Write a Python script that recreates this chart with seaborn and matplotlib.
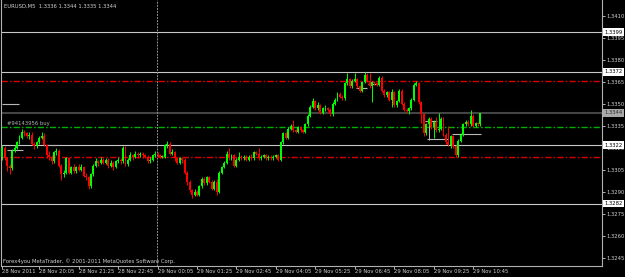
import numpy as np
import matplotlib
matplotlib.use("Agg")
import matplotlib.pyplot as plt
import seaborn as sns

# EURUSD M5 candles, values in points above 1.3300
BASE = 1.3300
PT = 0.0001

first_open = 14
closes = [20, 13, 8, 6, 18, 20, 24, 27, 31, 30,
          28, 29, 23, 21, 24, 27, 28, 22, 15, 14,
          11, 17, 18, 8, 2, 3, 13, 3, 7, 4,
          7, 5, 7, 1, 0, -6, 2, 8, 11, 10,
          12, 10, 12, 8, 10, 7, 11, 12, 11, 20,
          9, 12, 15, 14, 16, 15, 16, 15, 14, 11,
          12, 15, 16, 15, 14, 14, 22, 23, 16, 17,
          13, 10, 13, 12, 3, -3, -9, -12, -10, -12,
          -6, -1, -4, 0, -3, -8, -3, -10, 3, 7,
          10, 16, 13, 15, 8, 12, 14, 13, 14, 12,
          14, 13, 17, 16, 13, 14, 15, 13, 14, 13,
          14, 15, 12, 24, 30, 27, 33, 35, 32, 31,
          34, 32, 31, 36, 42, 48, 52, 47, 49, 44,
          47, 47, 46, 43, 50, 53, 57, 55, 54, 64,
          67, 62, 66, 67, 62, 59, 65, 70, 66, 62,
          65, 64, 63, 68, 59, 56, 58, 53, 58, 49,
          52, 59, 50, 46, 45, 47, 53, 63, 64, 51,
          43, 30, 36, 40, 34, 38, 32, 33, 40, 29,
          24, 22, 28, 21, 15, 25, 29, 36, 38, 36,
          42, 35, 37, 36, 44]
highs = [22, 21, 14, 9, 19, 22, 25, 29, 33, 32,
         31, 31, 31, 24, 25, 28, 31, 30, 23, 18,
         15, 18, 20, 19, 9, 5, 14, 14, 8, 9,
         8, 9, 9, 8, 3, 1, 3, 9, 13, 12,
         14, 13, 13, 13, 12, 11, 12, 14, 13, 21,
         21, 13, 17, 16, 18, 17, 17, 17, 16, 15,
         14, 16, 18, 17, 16, 15, 23, 25, 24, 19,
         18, 14, 14, 14, 13, 4, -2, -8, -8, -9,
         -5, 0, 0, 1, 1, -2, -2, -1, 4, 8,
         11, 18, 20, 16, 16, 13, 17, 15, 15, 15,
         15, 16, 18, 18, 20, 15, 16, 16, 15, 15,
         15, 16, 16, 25, 31, 31, 34, 36, 39, 33,
         35, 35, 33, 37, 43, 49, 54, 53, 51, 50,
         48, 49, 48, 47, 51, 54, 58, 58, 56, 65,
         71, 68, 67, 71, 68, 63, 66, 72, 71, 71,
         66, 66, 65, 69, 69, 60, 59, 59, 60, 59,
         53, 60, 60, 51, 47, 48, 54, 64, 66, 65,
         52, 44, 37, 41, 41, 39, 41, 44, 41, 41,
         30, 35, 29, 29, 22, 26, 30, 37, 39, 39,
         46, 43, 38, 38, 44]
lows = [12, 12, 4, 2, 5, 17, 19, 23, 26, 28,
        27, 26, 22, 19, 20, 23, 26, 21, 13, 12,
        9, 10, 15, 7, -2, 0, 2, 2, 2, 3,
        3, 4, 4, 0, -2, -8, -7, 1, 7, 8,
        9, 9, 9, 6, 7, 5, 6, 10, 9, 10,
        8, 8, 11, 12, 13, 13, 14, 13, 13, 10,
        10, 11, 14, 14, 13, 13, 13, 20, 15, 15,
        11, 9, 9, 10, 2, -5, -10, -14, -13, -13,
        -13, -7, -5, -5, -4, -9, -9, -12, -11, 2,
        6, 9, 12, 12, 7, 7, 11, 12, 12, 11,
        11, 12, 12, 15, 12, 12, 13, 12, 12, 12,
        12, 13, 11, 11, 23, 26, 26, 32, 31, 30,
        30, 31, 30, 30, 35, 41, 47, 46, 46, 43,
        43, 45, 45, 42, 42, 49, 52, 54, 53, 53,
        63, 61, 61, 65, 61, 58, 58, 64, 65, 61,
        51, 63, 62, 62, 58, 55, 55, 52, 48, 48,
        48, 51, 49, 45, 44, 43, 46, 52, 62, 50,
        37, 28, 29, 35, 33, 27, 31, 31, 32, 28,
        23, 21, 20, 20, 14, 14, 24, 28, 35, 35,
        35, 34, 34, 35, 35]

time_ticks = [0, 15, 31, 47, 63, 79, 95, 111, 127, 143, 159, 175, 191]
time_labels = ["28 Nov 2011", "28 Nov 20:05", "28 Nov 21:25", "28 Nov 22:45",
               "29 Nov 00:05", "29 Nov 01:25", "29 Nov 02:45", "29 Nov 04:05",
               "29 Nov 05:25", "29 Nov 06:45", "29 Nov 08:05", "29 Nov 09:25",
               "29 Nov 10:45"]
price_ticks = [1.3245, 1.3260, 1.3275, 1.3290, 1.3305, 1.3320,
               1.3335, 1.3350, 1.3365, 1.3380, 1.3395, 1.3410]

level_lines = [1.3399, 1.3372, 1.3322, 1.3282]
bid_price = 1.3344
stop_lines = [1.3366, 1.3314]
order_price = 1.3334
order_text = "#94143956 buy"
day_break = 62.6

# short grey marks (bar from, bar to, price)
mark_from = [-0.2, 1.9, 17.7, 143.5, 148.4, 171.5, 172.3, 182.5]
mark_to = [6.8, 8.4, 23.4, 148.0, 152.5, 176.4, 180.9, 194.3]
mark_price = [1.3350, 1.33186, 1.3322, 1.33609, 1.33636, 1.33384, 1.33261, 1.33295]

title_text = "EURUSD,M5  1.3336 1.3344 1.3335 1.3344"
credit_text = "Forex4you MetaTrader, \u00a9 2001-2011 MetaQuotes Software Corp."

sns.set_theme(style="dark", rc={"axes.facecolor": "black", "figure.facecolor": "black",
                                "lines.scale_dashes": False})
plt.rcParams['font.family'] = ['DejaVu Sans']
FS = 3.8
FG = "#d0d0d0"

o = BASE + PT * np.array([first_open] + closes[:-1], dtype=float)
c = BASE + PT * np.array(closes, dtype=float)
h = BASE + PT * np.array(highs, dtype=float)
l = BASE + PT * np.array(lows, dtype=float)
x = np.arange(len(c))
up = c >= o
col = np.where(up, "#00ff00", "#ff0000")

fig = plt.figure(figsize=(6.25, 2.77), dpi=100)
ax = fig.add_axes([1.5 / 625, 11 / 277, 600.5 / 625, 266 / 277])
ax.set_facecolor("black")

# level lines
for lv in level_lines:
    ax.axhline(lv, color="#c8c8c8", lw=0.8, zorder=1)
ax.axhline(bid_price, color="#444444", lw=1.5, zorder=1)
for lv in stop_lines:
    ax.axhline(lv, color="#d80000", lw=1.0, dashes=(4.5, 1.5, 1.2, 1.5), zorder=1)
ax.axhline(order_price, color="#00b000", lw=1.0, dashes=(4.5, 1.5, 1.2, 1.5), zorder=1)
ax.axvline(day_break, color="#909090", lw=0.7, dashes=(1.4, 0.8), zorder=1)

ax.hlines(mark_price, mark_from, mark_to, color="#b8b8b8", lw=0.8, zorder=2)
ax.vlines(mark_from[5] + 1.6, mark_price[7] - 0.0004, mark_price[5], color="#b8b8b8", lw=0.7, zorder=2)

# candles
ax.vlines(x, l, h, colors=col, lw=0.7, zorder=3)
body = np.maximum(np.abs(c - o), 0.3 * PT)
ax.bar(x, body, bottom=np.minimum(o, c), width=0.8, color=col, linewidth=0, zorder=4)

ax.set_xlim(-0.3, 243.3)
ax.set_ylim(1.32395, 1.34209)

ax.yaxis.tick_right()
ax.set_yticks(price_ticks)
ax.set_yticklabels([f"{p:.4f}" for p in price_ticks])
ax.set_xticks(time_ticks)
ax.set_xticklabels(time_labels)
for t in ax.get_xticklabels():
    t.set_ha("left")
ax.tick_params(axis="y", right=True, left=False, length=2.0, width=0.6, color=FG,
               labelcolor=FG, labelsize=FS, pad=1.2)
ax.tick_params(axis="x", bottom=True, length=2.0, width=0.6, color=FG,
               labelcolor=FG, labelsize=FS, pad=0.5)
ax.grid(False)
ax.spines["top"].set_visible(False)
for side in ["left", "right", "bottom"]:
    ax.spines[side].set_color("#b0b0b0")
    ax.spines[side].set_linewidth(0.8)

# price boxes on the right scale
tr = ax.get_yaxis_transform()
for lv in level_lines:
    ax.text(1.0035, lv, f"{lv:.4f}", transform=tr, fontsize=FS, color="black", va="center",
            ha="left", clip_on=False, zorder=6,
            bbox=dict(boxstyle="square,pad=0.25", fc="white", ec="none"))
ax.text(1.0035, bid_price, f"{bid_price:.4f}", transform=tr, fontsize=FS, color="#303030",
        va="center", ha="left", clip_on=False, zorder=6,
        bbox=dict(boxstyle="square,pad=0.25", fc="#a8a8a8", ec="none"))

ax.text(2.0, order_price + 1.0 * PT, order_text, fontsize=FS, color="#b0b0b0", va="bottom", ha="left")
fig.text(4 / 625, 1 - 6.5 / 277, title_text, fontsize=FS, color=FG, va="center", ha="left")
fig.text(3 / 625, 1 - 261.5 / 277, credit_text, fontsize=FS, color=FG, va="center", ha="left")

fig.savefig("out.png", dpi=100, facecolor="black")
